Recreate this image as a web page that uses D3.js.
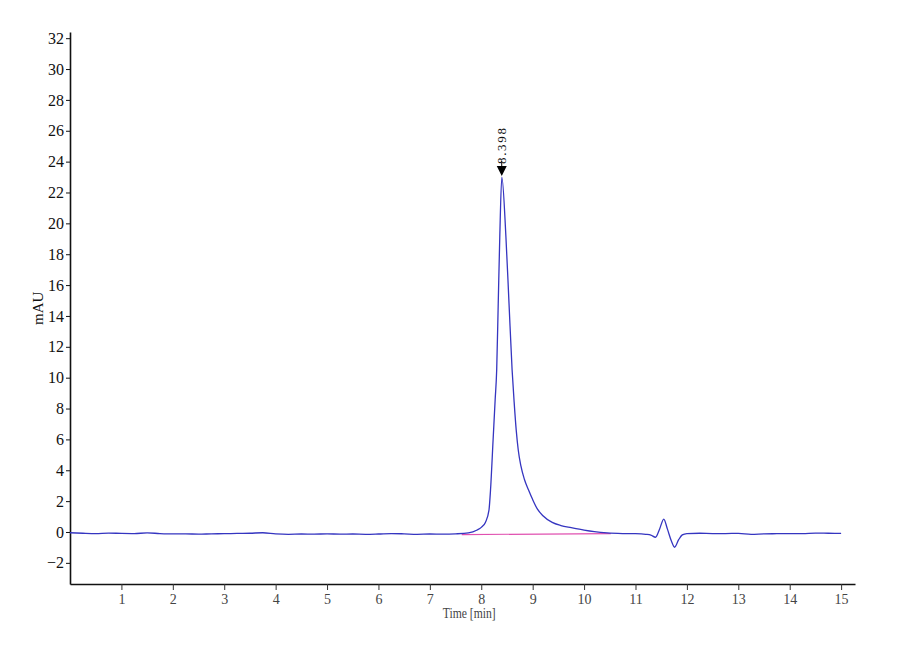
<!DOCTYPE html>
<html>
<head>
<meta charset="utf-8">
<script src="https://cdn.jsdelivr.net/npm/d3@7"></script>
<style>
  body { margin: 0; background: #fff; }
</style>
</head>
<body>
<div id="chart"></div>
<script>
const width = 900;
const height = 660;

// chromatogram trace
const times = [0, 0.25, 0.5, 0.75, 1.0, 1.25, 1.5, 1.75, 2.0, 2.25, 2.5, 2.75, 3.0, 3.25, 3.5, 3.75,
   4.0, 4.25, 4.5, 4.75, 5.0, 5.25, 5.5, 5.75, 6.0, 6.25, 6.5, 6.75, 7.0, 7.25, 7.5, 7.75,
   7.92, 8.0, 8.08, 8.15, 8.18, 8.23, 8.27, 8.30, 8.33, 8.36, 8.40,
   8.48, 8.54, 8.60, 8.64, 8.68, 8.72, 8.77, 8.84, 8.92, 9.0, 9.09, 9.2, 9.38, 9.55, 9.75, 10.0, 10.2, 10.45,
   10.75, 11.0, 11.2, 11.3, 11.39, 11.47, 11.55, 11.62, 11.7, 11.76, 11.84, 11.91,
   12.0, 12.25, 12.5, 12.75, 13.0, 13.25, 13.5, 13.75, 14.0, 14.25, 14.5, 14.75, 15.0];
const mAU = [-0.05, -0.08, -0.1, -0.07, -0.09, -0.1, -0.06, -0.1, -0.12, -0.12, -0.14, -0.12, -0.11, -0.09, -0.08, -0.05,
   -0.12, -0.15, -0.13, -0.14, -0.12, -0.14, -0.13, -0.15, -0.13, -0.1, -0.12, -0.15, -0.13, -0.14, -0.12, -0.06,
   0.13, 0.3, 0.62, 1.42, 2.72, 5.96, 8.55, 10.5, 14.8, 19.1, 23.0,
   19.1, 14.8, 10.5, 8.4, 6.6, 5.3, 4.3, 3.4, 2.72, 2.1, 1.5, 1.05, 0.62, 0.42, 0.28, 0.12, 0.02, -0.06,
   -0.1, -0.11, -0.15, -0.2, -0.34, 0.2, 0.84, 0.2, -0.6, -0.99, -0.5, -0.19,
   -0.1, -0.08, -0.1, -0.1, -0.09, -0.15, -0.12, -0.11, -0.1, -0.1, -0.07, -0.08, -0.09];

// integration baseline under the main peak
const baseTimes = [7.62, 10.52];
const baseValues = [-0.17, -0.1];

const peakTime = 8.398;
const peakValue = 23.0;
const peakLabel = "8.398";

const yTicks = d3.range(-2, 33, 2);
const xTicks = d3.range(1, 16, 1);

const margin = { top: 32, right: 45, bottom: 76, left: 70 };

const svg = d3.select("#chart").append("svg")
   .attr("width", width)
   .attr("height", height);

const x = d3.scaleLinear()
   .domain([0, 15.27])
   .range([margin.left, width - margin.right]);

const y = d3.scaleLinear()
   .domain([-3.37, 32.4])
   .range([height - margin.bottom, margin.top]);

// axes
svg.append("g")
   .attr("transform", `translate(0,${height - margin.bottom})`)
   .call(d3.axisBottom(x).tickValues(xTicks).tickSize(6).tickSizeOuter(0).tickPadding(4))
   .call(g => g.select(".domain").attr("stroke", "#111").attr("stroke-width", 1.6))
   .call(g => g.selectAll(".tick line").attr("stroke", "#333"))
   .call(g => g.selectAll(".tick text")
      .style("font-family", "'Liberation Serif', serif")
      .style("font-size", "14px")
      .style("fill", "#444"));

svg.append("g")
   .attr("transform", `translate(${margin.left},0)`)
   .call(d3.axisLeft(y).tickValues(yTicks).tickSize(4).tickSizeOuter(0).tickPadding(2))
   .call(g => g.select(".domain").attr("stroke", "#111").attr("stroke-width", 1.6))
   .call(g => g.selectAll(".tick line").attr("stroke", "#111"))
   .call(g => g.selectAll(".tick text")
      .style("font-family", "'Liberation Serif', serif")
      .style("font-size", "16px")
      .style("fill", "#111"));

// axis titles
svg.append("text")
   .attr("transform", `translate(43,${y(14.5)}) rotate(-90)`)
   .attr("text-anchor", "middle")
   .style("font-family", "'Liberation Serif', serif")
   .style("font-size", "15px")
   .style("fill", "#111")
   .text("mAU");

svg.append("text")
   .attr("x", x(7.25))
   .attr("y", height - 42)
   .attr("textLength", 53)
   .attr("lengthAdjust", "spacingAndGlyphs")
   .style("font-family", "'Liberation Serif', serif")
   .style("font-size", "14px")
   .style("fill", "#444")
   .text("Time [min]");

// baseline
const baseData = baseTimes.map((t, i) => ({ t: t, v: baseValues[i] }));
svg.append("path")
   .datum(baseData)
   .attr("fill", "none")
   .attr("stroke", "#e050b0")
   .attr("stroke-width", 1.2)
   .attr("d", d3.line().x(d => x(d.t)).y(d => y(d.v)));

// trace
const trace = times.map((t, i) => ({ t: t, v: mAU[i] }));
svg.append("path")
   .datum(trace)
   .attr("fill", "none")
   .attr("stroke", "#3535c0")
   .attr("stroke-width", 1.3)
   .attr("d", d3.line().curve(d3.curveMonotoneX).x(d => x(d.t)).y(d => y(d.v)));

// peak marker
const px = x(peakTime);
const py = y(peakValue);
svg.append("path")
   .attr("d", `M${px - 5},${py - 11} L${px + 5},${py - 11} L${px},${py - 1} Z`)
   .attr("fill", "#000");
svg.append("line")
   .attr("x1", px).attr("x2", px)
   .attr("y1", py - 16).attr("y2", py - 10)
   .attr("stroke", "#000");
svg.append("text")
   .attr("transform", `translate(${px + 4},${py - 13}) rotate(-90)`)
   .attr("textLength", 36)
   .attr("lengthAdjust", "spacing")
   .style("font-family", "'Liberation Serif', serif")
   .style("font-size", "13px")
   .style("fill", "#111")
   .text(peakLabel);
</script>
</body>
</html>
